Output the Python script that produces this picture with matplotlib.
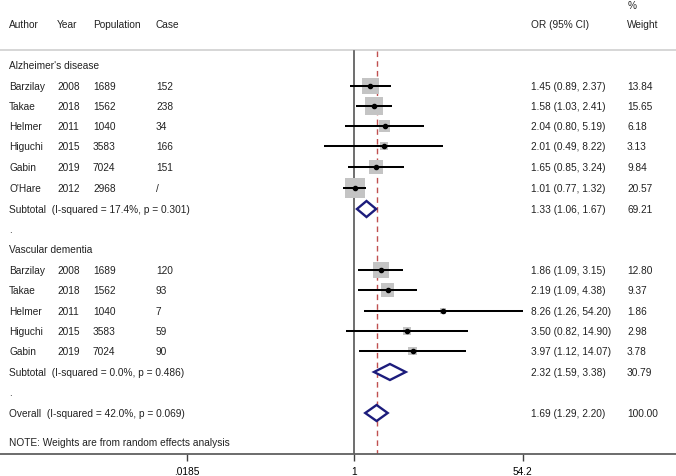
import numpy as np
import matplotlib.pyplot as plt
from matplotlib.transforms import blended_transform_factory

plt.rcParams['font.family'] = ['Liberation Sans', 'DejaVu Sans']

# study rows
ad_author = ["Barzilay", "Takae", "Helmer", "Higuchi", "Gabin", "O'Hare"]
ad_year = ["2008", "2018", "2011", "2015", "2019", "2012"]
ad_pop = ["1689", "1562", "1040", "3583", "7024", "2968"]
ad_case = ["152", "238", "34", "166", "151", "/"]
ad_or = [1.45, 1.58, 2.04, 2.01, 1.65, 1.01]
ad_lo = [0.89, 1.03, 0.80, 0.49, 0.85, 0.77]
ad_hi = [2.37, 2.41, 5.19, 8.22, 3.24, 1.32]
ad_w = [13.84, 15.65, 6.18, 3.13, 9.84, 20.57]

vd_author = ["Barzilay", "Takae", "Helmer", "Higuchi", "Gabin"]
vd_year = ["2008", "2018", "2011", "2015", "2019"]
vd_pop = ["1689", "1562", "1040", "3583", "7024"]
vd_case = ["120", "93", "7", "59", "90"]
vd_or = [1.86, 2.19, 8.26, 3.50, 3.97]
vd_lo = [1.09, 1.09, 1.26, 0.82, 1.12]
vd_hi = [3.15, 4.38, 54.20, 14.90, 14.07]
vd_w = [12.80, 9.37, 1.86, 2.98, 3.78]

# pooled
ad_sub = (1.33, 1.06, 1.67, 69.21, "Subtotal  (I-squared = 17.4%, p = 0.301)")
vd_sub = (2.32, 1.59, 3.38, 30.79, "Subtotal  (I-squared = 0.0%, p = 0.486)")
overall = (1.69, 1.29, 2.20, 100.00, "Overall  (I-squared = 42.0%, p = 0.069)")

ticks = [0.0185, 1, 54.2]
tick_labels = [".0185", "1", "54.2"]

W, H = 676, 477
fig = plt.figure(figsize=(W / 100, H / 100), dpi=100)
ax = fig.add_axes([0, 22 / H, 1, 455 / H])
ax.set_xscale('log')
k = 42.1
ax.set_xlim(np.exp(-354.5 / k), np.exp((W - 354.5) / k))
ax.set_ylim(455, 0)
for s in ['top', 'left', 'right']:
    ax.spines[s].set_visible(False)
ax.spines['bottom'].set_color('#606060')
ax.spines['bottom'].set_linewidth(1.3)
ax.set_yticks([])
ax.set_xticks(ticks)
ax.set_xticklabels(tick_labels)
ax.minorticks_off()
ax.tick_params(axis='x', length=5, width=1, color='#404040', labelsize=7.3, pad=4)

tr = blended_transform_factory(ax.transAxes, ax.transData)
fs = 7.3


def txt(xpx, y, s, **kw):
    ax.text(xpx / W, y, s, transform=tr, fontsize=fs, va='center', ha='left',
            color='#222222', **kw)


# header
txt(9, 25, "Author")
txt(57, 25, "Year")
txt(93, 25, "Population")
txt(155, 25, "Case")
txt(531, 25, "OR (95% CI)")
txt(627, 25, "Weight")
txt(628, 6, "%")
ax.plot([0, 1], [51, 51], transform=tr, color='#d0d0d0', lw=1.2, clip_on=False)

# reference lines
ax.plot([1, 1], [52, 455], color='#555555', lw=1.2)
ax.plot([overall[0]] * 2, [52, 455], color='#c05050', lw=1.0, ls=(0, (4, 3)))


def study_rows(ys, author, year, pop, case, orr, lo, hi, w):
    for i, y in enumerate(ys):
        txt(9, y, author[i])
        txt(57, y, year[i])
        txt(93, y, pop[i])
        txt(156, y, case[i])
        txt(531, y, f"{orr[i]:.2f} ({lo[i]:.2f}, {hi[i]:.2f})")
        txt(627, y, f"{w[i]:.2f}")
    ax.scatter(orr, ys, marker='s', s=np.array(w) * 10.5, color='#c4c4c4',
               edgecolors='none', zorder=2)
    ax.hlines(ys, lo, hi, color='black', lw=1.45, zorder=3)
    ax.scatter(orr, ys, marker='o', s=9, color='black', zorder=4)


def pooled_row(y, p):
    est, lo, hi, w, label = p
    txt(9, y, label)
    txt(531, y, f"{est:.2f} ({lo:.2f}, {hi:.2f})")
    txt(627, y, f"{w:.2f}")
    ax.fill([lo, est, hi, est, lo], [y, y - 8, y, y + 8, y], facecolor='white',
            edgecolor='#1c1c7c', lw=1.7, zorder=3)


txt(9, 66, "Alzheimer's disease")
study_rows([87, 107, 127, 147, 168, 189], ad_author, ad_year, ad_pop, ad_case,
           ad_or, ad_lo, ad_hi, ad_w)
pooled_row(210, ad_sub)
txt(9, 230, ".")

txt(9, 250, "Vascular dementia")
study_rows([271, 291, 312, 332, 352], vd_author, vd_year, vd_pop, vd_case,
           vd_or, vd_lo, vd_hi, vd_w)
pooled_row(373, vd_sub)
txt(9, 393, ".")
pooled_row(414, overall)
txt(9, 443, "NOTE: Weights are from random effects analysis")

fig.savefig("out.png", dpi=100)
